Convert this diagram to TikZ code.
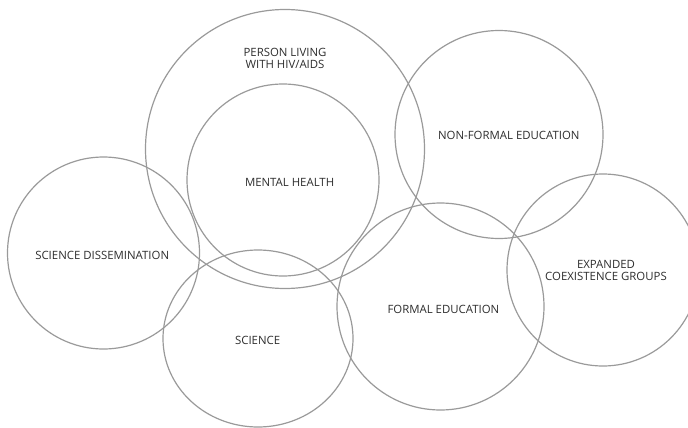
\documentclass[tikz,border=0pt]{standalone}
\usepackage{fontspec}
\setmainfont{Open Sans}
\definecolor{ringgray}{HTML}{9A9A9A}
\definecolor{labelgray}{HTML}{2E2E2E}
\tikzset{
  ring/.style={draw=ringgray, line width=1.2pt},
  lbl/.style={text=labelgray, font=\fontsize{11.4}{12}\selectfont, align=center, inner sep=0pt}
}
\begin{document}
\begin{tikzpicture}[x=1pt,y=-1pt]
\useasboundingbox (0,0) rectangle (688,428);
\clip (0,0) rectangle (688,428);
\fill[white] (0,0) rectangle (688,428);
% circles
\draw[ring] (285,149) circle[radius=139.5];
\draw[ring] (283,180) circle[radius=96];
\draw[ring] (499,134.5) circle[radius=104];
\draw[ring] (103.5,253) circle[radius=96];
\draw[ring] (258,338.5) ellipse[x radius=95, y radius=88.5];
\draw[ring] (440.5,306.5) circle[radius=103.5];
\draw[ring] (603,270) circle[radius=96];
% labels
\node[lbl] (plwha) at (285,58) {PERSON LIVING\\WITH HIV/AIDS};
\node[lbl] (mh) at (289.6,182) {MENTAL HEALTH};
\node[lbl] (nfe) at (508.8,135.7) {NON-FORMAL EDUCATION};
\node[lbl] (sd) at (102.2,255.3) {SCIENCE DISSEMINATION};
\node[lbl] (sci) at (257.6,340.7) {SCIENCE};
\node[lbl] (fe) at (443.4,309) {FORMAL EDUCATION};
\node[lbl] (ecg) at (606,270) {EXPANDED\\COEXISTENCE GROUPS};
\end{tikzpicture}
\end{document}
